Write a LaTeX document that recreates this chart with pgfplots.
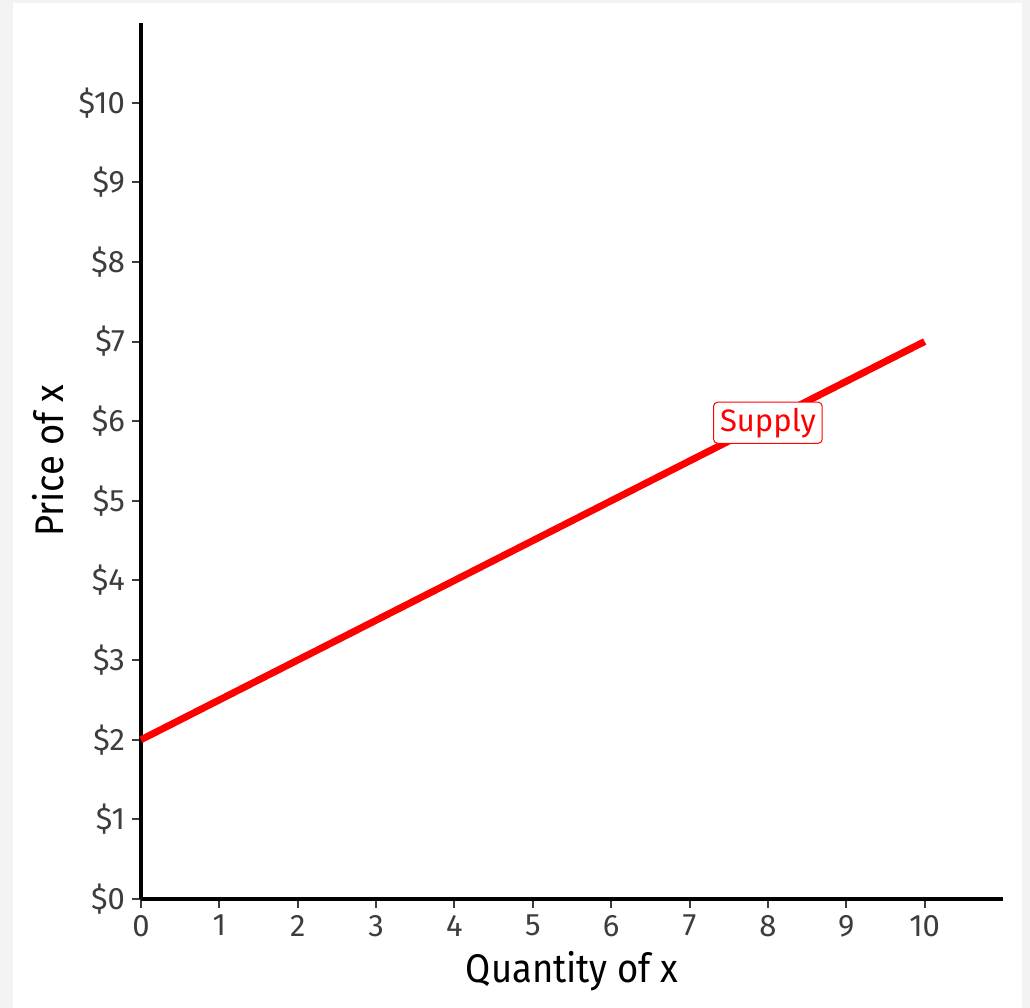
\documentclass[border=0pt]{standalone}
\usepackage{pgfplots}
\pgfplotsset{compat=1.18}
\usepackage{fontspec}
\setmainfont{Fira Sans}
\newfontfamily\condfont[FakeStretch=0.91]{Fira Sans}
\definecolor{bggray}{HTML}{F3F3F3}
\definecolor{ticklab}{HTML}{3D3D3D}
\definecolor{supred}{HTML}{FF0000}
\begin{document}
\begin{tikzpicture}
\fill[bggray] (0pt,0pt) rectangle (515pt,504pt);
\fill[white] (6.5pt,0pt) rectangle (511pt,502.5pt);
\useasboundingbox (0pt,0pt) rectangle (515pt,504pt);
\begin{axis}[
  at={(70.5pt,54.5pt)}, anchor=south west,
  scale only axis, width=431pt, height=438pt,
  xmin=0, xmax=11, ymin=0, ymax=11,
  axis x line*=bottom, axis y line*=left,
  axis line style={-, line width=1.6pt, black},
  xtick={0,1,...,10}, ytick={0,1,...,10},
  tick align=outside, major tick length=4.5pt,
  tick style={line width=1pt, ticklab},
  /pgf/number format/assume math mode=true,
  ticklabel style={font=\fontsize{15.5}{18}\selectfont, text=ticklab},
  yticklabel={\$\pgfmathprintnumber{\tick}},
  xlabel={Quantity of x}, ylabel={Price of x},
  label style={font=\condfont\fontsize{20}{24}\selectfont, text=black},
  xlabel style={at={(axis description cs:0.5,0)}, anchor=center, yshift=-36pt},
  ylabel style={at={(axis description cs:0,0.5)}, anchor=center, yshift=46.5pt},
  clip=false,
]
\addplot[supred, line width=3.5pt] coordinates {(0,2) (10,7)};
\node[draw=supred, fill=white, text=supred, rounded corners=2pt, line width=0.5pt,
  inner xsep=3.2pt, inner ysep=2.8pt, font=\fontsize{15.5}{18}\selectfont] at (axis cs:8,5.98) {Supply};
\end{axis}
\end{tikzpicture}
\end{document}
